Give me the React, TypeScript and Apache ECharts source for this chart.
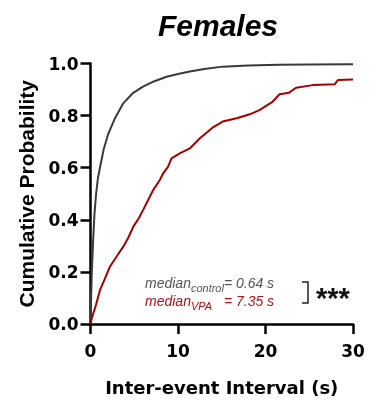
import React, { useEffect, useRef } from "react";
import * as echarts from "echarts";

const xTicks = [0, 10, 20, 30];
const yTicks = [0, 0.2, 0.4, 0.6, 0.8, 1.0];

const controlX = [0, 0.05, 0.15, 0.3, 0.45, 0.64, 0.85, 1.08, 1.5, 2.03, 2.8, 3.74, 4.8, 6.0, 7.3, 8.7, 10, 11.35, 13, 15.1, 18, 21.6, 25, 30];
const controlY = [0, 0.08, 0.2, 0.32, 0.42, 0.5, 0.56, 0.6, 0.67, 0.73, 0.79, 0.847, 0.885, 0.911, 0.932, 0.949, 0.96, 0.969, 0.979, 0.988, 0.992, 0.995, 0.996, 0.997];

const vpaX = [0, 0.1, 0.32, 0.6, 1.08, 1.6, 2.22, 3, 3.74, 4.3, 4.88, 5.5, 6.02, 6.5, 7.16, 7.92, 8.3, 8.87, 9.26, 10.2, 11.35, 12.5, 13.3, 14.0, 15.1, 16.7, 18.2, 19.3, 20.2, 20.8, 21.6, 22.7, 23.5, 25.4, 27.9, 28.3, 30];
const vpaY = [0, 0.015, 0.041, 0.07, 0.13, 0.17, 0.22, 0.26, 0.297, 0.33, 0.373, 0.405, 0.438, 0.47, 0.514, 0.553, 0.578, 0.604, 0.636, 0.655, 0.674, 0.713, 0.735, 0.755, 0.777, 0.79, 0.805, 0.821, 0.84, 0.853, 0.882, 0.888, 0.907, 0.917, 0.92, 0.937, 0.939];

const medianControl = "0.64 s";
const medianVPA = "7.35 s";

const FONT = "'Liberation Sans', Arial, sans-serif";
const WIDE = "'DejaVu Sans', 'Liberation Sans', sans-serif";

export default function App() {
  const ref = useRef<HTMLDivElement>(null);
  useEffect(() => {
    if (!ref.current) return;
    const chart = echarts.init(ref.current, undefined, { renderer: "svg" });
    const axisStyle = { lineStyle: { color: "#000", width: 2.5 } };
    const rich = (color: string) => ({
      m: { font: `italic 14px ${FONT}`, fill: color, lineHeight: 20, verticalAlign: "middle" },
      s: { font: `italic 11px ${FONT}`, fill: color, lineHeight: 11, verticalAlign: "bottom", width: 33 },
    });
    chart.setOption({
      animation: false,
      grid: { left: 90.5, right: 26, top: 63.5, bottom: 79 },
      xAxis: {
        type: "value",
        min: xTicks[0],
        max: xTicks[xTicks.length - 1],
        interval: 10,
        name: "Inter-event Interval (s)",
        nameLocation: "middle",
        nameGap: 54,
        nameTextStyle: { fontFamily: WIDE, fontWeight: "bold", fontSize: 18, color: "#000" },
        axisLine: axisStyle,
        axisTick: { show: true, length: 10, lineStyle: { color: "#000", width: 2.5 } },
        axisLabel: { fontFamily: WIDE, fontWeight: "bold", fontSize: 17, color: "#000", margin: 18 },
        splitLine: { show: false },
      },
      yAxis: {
        type: "value",
        min: yTicks[0],
        max: yTicks[yTicks.length - 1],
        interval: 0.2,
        name: "Cumulative Probability",
        nameLocation: "middle",
        nameGap: 49,
        nameTextStyle: { fontFamily: FONT, fontWeight: "bold", fontSize: 21, color: "#000" },
        axisLine: { show: true, ...axisStyle },
        axisTick: { show: true, length: 10, lineStyle: { color: "#000", width: 2.5 } },
        axisLabel: {
          fontFamily: WIDE,
          fontWeight: "bold",
          fontSize: 17,
          color: "#000",
          margin: 12,
          formatter: (v: number) => v.toFixed(1),
        },
        splitLine: { show: false },
      },
      series: [
        {
          type: "line",
          data: controlX.map((x, i) => [x, controlY[i]]),
          showSymbol: false,
          lineStyle: { color: "#3a3a3a", width: 2 },
          z: 3,
        },
        {
          type: "line",
          data: vpaX.map((x, i) => [x, vpaY[i]]),
          showSymbol: false,
          lineStyle: { color: "#a50000", width: 2 },
          z: 4,
        },
      ],
      graphic: [
        {
          type: "text",
          x: 218,
          y: 25,
          style: {
            text: "Females",
            font: `italic bold 30px ${FONT}`,
            fill: "#000",
            textAlign: "center",
            textVerticalAlign: "middle",
          },
        },
        {
          type: "text",
          x: 145,
          y: 283,
          style: {
            text: `{m|median}{s|control}{m|= ${medianControl}}`,
            rich: rich("#555555"),
            fill: "#555555",
            textVerticalAlign: "middle",
          },
        },
        {
          type: "text",
          x: 145,
          y: 301,
          style: {
            text: `{m|median}{s|VPA}{m|= ${medianVPA}}`,
            rich: rich("#b01010"),
            fill: "#b01010",
            textVerticalAlign: "middle",
          },
        },
        {
          type: "polyline",
          shape: { points: [[302, 282], [308, 282], [308, 303], [302, 303]] },
          style: { stroke: "#222", lineWidth: 1.5, fill: "none" },
        },
        {
          type: "text",
          x: 316,
          y: 298,
          style: { text: "***", font: `bold 29px ${FONT}`, fill: "#111", textVerticalAlign: "middle" },
        },
      ],
    });
    return () => chart.dispose();
  }, []);
  return <div ref={ref} style={{ position: "fixed", left: 0, top: 0, width: 379, height: 403 }} />;
}
